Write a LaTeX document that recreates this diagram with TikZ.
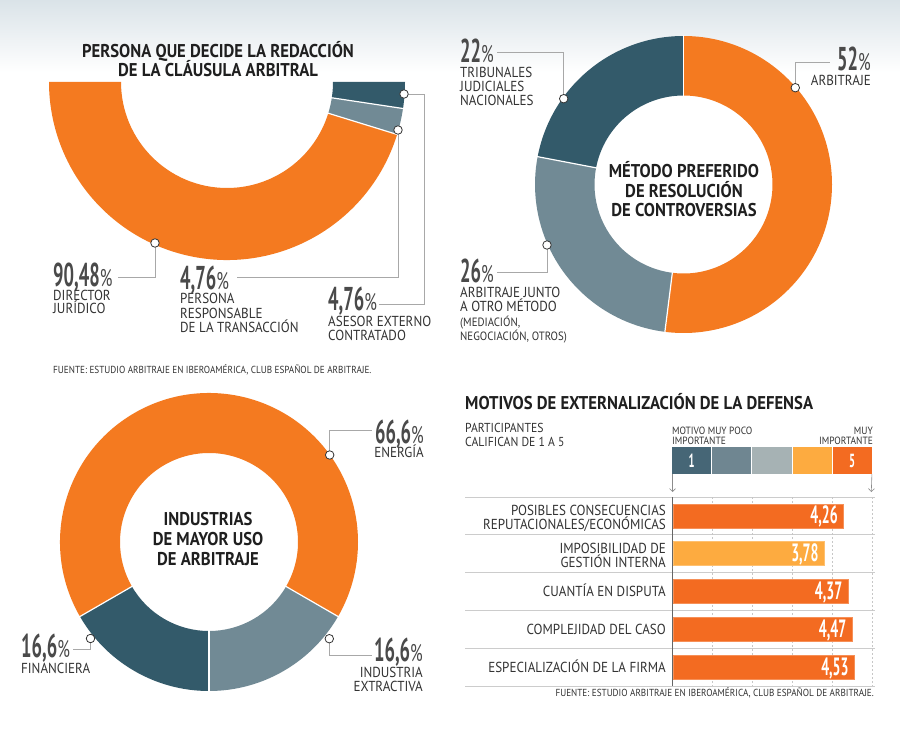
\documentclass[tikz,border=0pt]{standalone}
\usepackage{fontspec}
\setmainfont{PT Sans}
\newfontfamily\fl{PT Sans}[FakeStretch=0.9]
\newfontfamily\fn{PT Sans}[FakeStretch=0.56]
\newfontfamily\fp{PT Sans}[FakeStretch=0.68]
\usetikzlibrary{calc,arrows.meta}
\definecolor{cor}{HTML}{F47A20}
\definecolor{cdark}{HTML}{335A6A}
\definecolor{cgray}{HTML}{718A95}
\definecolor{bor}{HTML}{F36B21}
\definecolor{byel}{HTML}{FDAB40}
\definecolor{sa}{HTML}{466676}
\definecolor{sb}{HTML}{6F8691}
\definecolor{sc}{HTML}{A6B2B4}
\definecolor{txt}{HTML}{333333}
\definecolor{numc}{HTML}{4A4A4A}
\definecolor{lead}{HTML}{A8A8A8}
\definecolor{gtop}{HTML}{DAE3E8}
\newcommand\donutseg[6]{%
  \fill[#6] ($#1+(#4:#2)$) arc[start angle=#4, end angle=#5, radius=#2]
    -- ($#1+(#5:#3)$) arc[start angle=#5, end angle=#4, radius=#3] -- cycle;}
\newcommand\donutsep[4]{%
  \draw[white, line width=1.2pt] ($#1+(#4:#3-1)$) -- ($#1+(#4:#2+1)$);}
\newcommand\pctsign{{\fp\mdseries\fontsize{24}{24}\selectfont\%}}
\tikzset{
  lbl/.style={font=\fl\fontsize{14.5}{14}\selectfont, text=txt, inner sep=0pt, text height=10pt, text depth=0pt},
  sml/.style={font=\fl\fontsize{12}{12}\selectfont, text=txt, inner sep=0pt, text height=8.5pt, text depth=0pt},
  tiny/.style={font=\fl\fontsize{10.5}{10.5}\selectfont, text=txt, inner sep=0pt, text height=7.3pt, text depth=0pt},
  ttl/.style={font=\fl\bfseries\fontsize{18.5}{20}\selectfont, text=black!88, inner sep=0pt, text height=13pt, text depth=0pt},
  bignum/.style={font=\fn\bfseries\fontsize{33}{33}\selectfont, text=numc, inner sep=0pt, text height=23pt, text depth=0pt},
  valnum/.style={font=\fn\bfseries\fontsize{25}{25}\selectfont, text=white, inner sep=0pt, text height=17.5pt, text depth=0pt},
  scnum/.style={font=\fn\bfseries\fontsize{19}{19}\selectfont, text=white, inner sep=0pt, text height=13pt, text depth=0pt},
  src/.style={font=\fl\fontsize{10.2}{10}\selectfont, text=txt, inner sep=0pt, text height=7.3pt, text depth=0pt},
  marker/.style={circle, draw=txt, fill=white, line width=0.8pt, minimum size=8.5pt, inner sep=0pt},
  leader/.style={draw=lead, line width=0.8pt},
  sbox/.style={minimum width=39.1pt, minimum height=27pt, inner sep=0pt, anchor=west},
  bar/.style={minimum height=24pt, inner sep=0pt, anchor=west, line width=0.6pt},
  rowline/.style={draw=black!20, line width=0.8pt},
  gridline/.style={draw=black!22, line width=0.6pt, dash pattern=on 2pt off 2pt},
  arr/.style={draw=black!45, line width=0.6pt, -{Straight Barb[length=3pt,width=6pt]}}
}
\begin{document}
\begin{tikzpicture}[x=1pt,y=-1pt]
\useasboundingbox (0,0) rectangle (900,733);
\fill[white] (0,0) rectangle (900,733);
\shade[top color=gtop, bottom color=white] (0,0) rectangle (900,72);

% ---------------- top-left half donut
\coordinate (c1) at (227,82);
\donutseg{(c1)}{178}{106}{17.14}{180}{cor}
\donutseg{(c1)}{178}{106}{8.57}{17.14}{cgray}
\donutseg{(c1)}{178}{106}{0}{8.57}{cdark}
\donutsep{(c1)}{178}{106}{8.57}
\donutsep{(c1)}{178}{106}{17.14}
\node[ttl, anchor=base] (t1a) at (218,57.3) {PERSONA QUE DECIDE LA REDACCIÓN};
\node[ttl, anchor=base] (t1b) at (218,76.5) {DE LA CLÁUSULA ARBITRAL};

\coordinate (e11) at (118,277);
\coordinate (e12) at (237,277);
\coordinate (k13) at (424,94);
\coordinate (e13) at (379,304);
\draw[leader] (155,243) |- (e11);
\draw[leader] (398,130) |- (e12);
\draw[leader] (404,94) -- (k13) |- (e13);
\node[marker] (m11) at (155,243) {};
\node[marker] (m12) at (398,130) {};
\node[marker] (m13) at (404,94) {};

\node[bignum, anchor=base west] (n11) at (53,286) {90,48\pctsign};
\node[lbl, anchor=base west] (l11a) at (53,300) {DIRECTOR};
\node[lbl, anchor=base west] (l11b) at (53,313.5) {JURÍDICO};
\node[bignum, anchor=base west] (n12) at (180,289) {4,76\pctsign};
\node[lbl, anchor=base west] (l12a) at (180,303) {PERSONA};
\node[lbl, anchor=base west] (l12b) at (180,318) {RESPONSABLE};
\node[lbl, anchor=base west] (l12c) at (180,332.5) {DE LA TRANSACCIÓN};
\node[bignum, anchor=base west] (n13) at (328,310) {4,76\pctsign};
\node[lbl, anchor=base west] (l13a) at (328,326.5) {ASESOR EXTERNO};
\node[lbl, anchor=base west] (l13b) at (328,340.5) {CONTRATADO};
\node[src, anchor=base west] (src1) at (53,373.3) {FUENTE: ESTUDIO ARBITRAJE EN IBEROAMÉRICA, CLUB ESPAÑOL DE ARBITRAJE.};

% ---------------- top-right donut
\coordinate (c2) at (683.5,184.5);
\donutseg{(c2)}{148.5}{89}{-90}{97.2}{cor}
\donutseg{(c2)}{148.5}{89}{97.2}{190.8}{cgray}
\donutseg{(c2)}{148.5}{89}{190.8}{270}{cdark}
\donutsep{(c2)}{148.5}{89}{-90}
\donutsep{(c2)}{148.5}{89}{97.2}
\donutsep{(c2)}{148.5}{89}{190.8}
\node[ttl, anchor=base] (t2a) at (684,177.3) {MÉTODO PREFERIDO};
\node[ttl, anchor=base] (t2b) at (684,197.3) {DE RESOLUCIÓN};
\node[ttl, anchor=base] (t2c) at (684,216.7) {DE CONTROVERSIAS};

\coordinate (e21) at (497,52.7);
\coordinate (e22) at (830,62.7);
\coordinate (e23) at (497,272.7);
\draw[leader] (563.7,98.7) |- (e21);
\draw[leader] (795.3,87.7) |- (e22);
\draw[leader] (547,245) |- (e23);
\node[marker] (m21) at (563.7,98.7) {};
\node[marker] (m22) at (795.3,87.7) {};
\node[marker] (m23) at (547,245) {};

\node[bignum, anchor=base west] (n21) at (460,63) {22\pctsign};
\node[lbl, anchor=base west] (l21a) at (460,77.7) {TRIBUNALES};
\node[lbl, anchor=base west] (l21b) at (460,91.7) {JUDICIALES};
\node[lbl, anchor=base west] (l21c) at (460,106) {NACIONALES};
\node[bignum, anchor=base east] (n22) at (871,70.7) {52\pctsign};
\node[lbl, anchor=base east] (l22a) at (871,85.7) {ARBITRAJE};
\node[bignum, anchor=base west] (n23) at (460,282.3) {26\pctsign};
\node[lbl, anchor=base west] (l23a) at (460,297.3) {ARBITRAJE JUNTO};
\node[lbl, anchor=base west] (l23b) at (460,311.7) {A OTRO MÉTODO};
\node[sml, anchor=base west] (l23c) at (460,326) {(MEDIACIÓN,};
\node[sml, anchor=base west] (l23d) at (460,340) {NEGOCIACIÓN, OTROS)};

% ---------------- bottom-left donut
\coordinate (c3) at (209,542);
\donutseg{(c3)}{149}{89}{150}{390}{cor}
\donutseg{(c3)}{149}{89}{30}{90}{cgray}
\donutseg{(c3)}{149}{89}{90}{150}{cdark}
\donutsep{(c3)}{149}{89}{30}
\donutsep{(c3)}{149}{89}{90}
\donutsep{(c3)}{149}{89}{150}
\node[ttl, anchor=base] (t3a) at (208,525.7) {INDUSTRIAS};
\node[ttl, anchor=base] (t3b) at (208,545.3) {DE MAYOR USO};
\node[ttl, anchor=base] (t3c) at (208,565) {DE ARBITRAJE};

\coordinate (e31) at (372,430);
\coordinate (e32) at (372,655);
\coordinate (e33) at (73,649.3);
\draw[leader] (329.7,455) |- (e31);
\draw[leader] (329.3,638.7) |- (e32);
\draw[leader] (90.5,638.5) |- (e33);
\node[marker] (m31) at (329.7,455) {};
\node[marker] (m32) at (329.3,638.7) {};
\node[marker] (m33) at (90.5,638.5) {};

\node[bignum, anchor=base east] (n31) at (424,443) {66,6\pctsign};
\node[lbl, anchor=base east] (l31a) at (424,457.3) {ENERGÍA};
\node[bignum, anchor=base west] (n33) at (21,657.7) {16,6\pctsign};
\node[lbl, anchor=base west] (l33a) at (21,673.3) {FINANCIERA};
\node[bignum, anchor=base east] (n32) at (423,661.7) {16,6\pctsign};
\node[lbl, anchor=base east] (l32a) at (423,677.7) {INDUSTRIA};
\node[lbl, anchor=base east] (l32b) at (423,691.7) {EXTRACTIVA};

% ---------------- bar chart
\node[ttl, anchor=base west] (t4) at (465,409.3) {MOTIVOS DE EXTERNALIZACIÓN DE LA DEFENSA};
\node[lbl, font=\fl\fontsize{13}{13}\selectfont, text height=9pt, anchor=base west] (p4a) at (465,432) {PARTICIPANTES};
\node[lbl, font=\fl\fontsize{13}{13}\selectfont, text height=9pt, anchor=base west] (p4b) at (465,446) {CALIFICAN DE 1 A 5};
\node[tiny, anchor=base west] (q4a) at (672,434) {MOTIVO MUY POCO};
\node[tiny, anchor=base west] (q4b) at (672,444.3) {IMPORTANTE};
\node[tiny, anchor=base east] (q4c) at (873,434) {MUY};
\node[tiny, anchor=base east] (q4d) at (873,444.3) {IMPORTANTE};

\node[sbox, fill=sa] (s1) at (672,460.5) {};
\node[sbox, fill=sb] (s2) at (712.1,460.5) {};
\node[sbox, fill=sc] (s3) at (752.2,460.5) {};
\node[sbox, fill=byel] (s4) at (792.3,460.5) {};
\node[sbox, fill=bor] (s5) at (832.4,460.5) {};
\node[scnum, anchor=base] (s1n) at ($(s1.center)+(0,6.5)$) {1};
\node[scnum, anchor=base] (s5n) at ($(s5.center)+(0,6.5)$) {5};
\coordinate (a1) at (672.5,492);
\coordinate (a5) at (871.3,492);
\draw[arr] (s1.south west) ++(0.5,0) -- (a1);
\draw[arr] (s5.south east) -- (a5);

\foreach \yy in {497,534.8,572.6,610.4,648.2,686}
  \draw[rowline] (465,\yy) -- (875,\yy);
\foreach \xx in {712.5,752.5,792.5,832.5,872.5}
  \draw[gridline] (\xx,497) -- (\xx,686);

\node[bar, fill=bor, draw=bor!75!white, minimum width=170.4pt] (b1) at (673,515.9) {};
\node[bar, fill=byel, draw=byel!75!white, minimum width=151.2pt] (b2) at (673,553.7) {};
\node[bar, fill=bor, draw=bor!75!white, minimum width=174.8pt] (b3) at (673,591.5) {};
\node[bar, fill=bor, draw=bor!75!white, minimum width=178.8pt] (b4) at (673,629.3) {};
\node[bar, fill=bor, draw=bor!75!white, minimum width=181.2pt] (b5) at (673,667.1) {};
\draw[draw=black!60, line width=1.6pt] (672.4,497) -- (672.4,686);

\node[valnum, anchor=base east] (v1) at ($(b1.east)+(-6,8)$) {4,26};
\node[valnum, anchor=base east] (v2) at ($(b2.east)+(-6,8)$) {3,78};
\node[valnum, anchor=base east] (v3) at ($(b3.east)+(-6,8)$) {4,37};
\node[valnum, anchor=base east] (v4) at ($(b4.east)+(-6,8)$) {4,47};
\node[valnum, anchor=base east] (v5) at ($(b5.east)+(-6,8)$) {4,53};

\node[lbl, anchor=base east] (r1a) at (666,515) {POSIBLES CONSECUENCIAS};
\node[lbl, anchor=base east] (r1b) at (666,529) {REPUTACIONALES/ECONÓMICAS};
\node[lbl, anchor=base east] (r2a) at (666,553.3) {IMPOSIBILIDAD DE};
\node[lbl, anchor=base east] (r2b) at (666,567) {GESTIÓN INTERNA};
\node[lbl, anchor=base east] (r3) at (666,596.8) {CUANTÍA EN DISPUTA};
\node[lbl, anchor=base east] (r4) at (666,634.6) {COMPLEJIDAD DEL CASO};
\node[lbl, anchor=base east] (r5) at (666,672.4) {ESPECIALIZACIÓN DE LA FIRMA};
\node[src, anchor=base east] (src2) at (874,696.7) {FUENTE: ESTUDIO ARBITRAJE EN IBEROAMÉRICA, CLUB ESPAÑOL DE ARBITRAJE.};
\end{tikzpicture}
\end{document}
